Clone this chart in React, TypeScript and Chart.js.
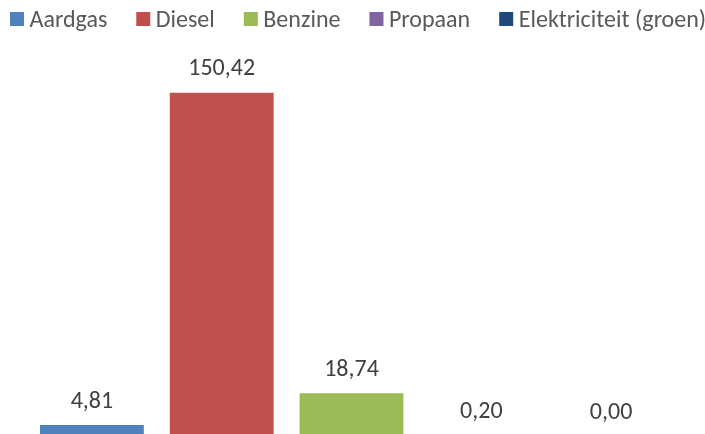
import React, { useEffect, useRef } from "react";
import { Chart, registerables } from "chart.js";

Chart.register(...registerables);

const categories: string[] = [""];
const seriesNames: string[] = ["Aardgas", "Diesel", "Benzine", "Propaan", "Elektriciteit (groen)"];
const seriesValues: number[] = [4.81, 150.42, 18.74, 0.2, 0.0];
const seriesColors: string[] = ["#4F81BD", "#C0504D", "#9BBB59", "#8064A2", "#1F497D"];

const FONT = "Carlito, Calibri, 'Open Sans', sans-serif";

const valueLabels = {
  id: "valueLabels",
  afterDatasetsDraw(chart: any) {
    const ctx = chart.ctx;
    ctx.save();
    ctx.font = `24px ${FONT}`;
    ctx.fillStyle = "#404040";
    ctx.textAlign = "center";
    ctx.textBaseline = "alphabetic";
    chart.data.datasets.forEach((ds: any, i: number) => {
      const meta = chart.getDatasetMeta(i);
      const el = meta.data[0];
      if (!el) return;
      const v = ds.data[0] as number;
      ctx.fillText(v.toFixed(2).replace(".", ","), el.x, el.y - 17.5);
    });
    ctx.restore();
  },
};

const topLegend = {
  id: "topLegend",
  afterDraw(chart: any) {
    const ctx = chart.ctx;
    ctx.save();
    ctx.font = `24px ${FONT}`;
    ctx.textAlign = "left";
    ctx.textBaseline = "alphabetic";
    let x = 10;
    chart.data.datasets.forEach((ds: any) => {
      ctx.fillStyle = ds.backgroundColor;
      ctx.fillRect(x, 12, 14, 14);
      x += 14 + 5.5;
      ctx.fillStyle = "#595959";
      ctx.fillText(ds.label, x, 26.5);
      x += ctx.measureText(ds.label).width + 29;
    });
    ctx.restore();
  },
};

export default function App() {
  const ref = useRef<HTMLCanvasElement | null>(null);
  useEffect(() => {
    document.body.style.margin = "0";
    const chart = new Chart(ref.current!, {
      type: "bar",
      data: {
        labels: categories,
        datasets: seriesNames.map((name, i) => ({
          label: name,
          data: [seriesValues[i]],
          backgroundColor: seriesColors[i],
          borderWidth: 0,
        })),
      },
      options: {
        responsive: false,
        animation: false,
        layout: { padding: { left: 27, right: 29, top: 71, bottom: 0 } },
        datasets: { bar: { categoryPercentage: 1, barPercentage: 0.8 } },
        scales: {
          x: { display: false },
          y: { display: false, min: 0, max: 160 },
        },
        plugins: {
          tooltip: { enabled: false },
          legend: { display: false },
        },
      },
      plugins: [valueLabels, topLegend],
    });
    return () => chart.destroy();
  }, []);
  return (
    <div style={{ position: "absolute", left: 0, top: 0, width: 705, height: 434, overflow: "hidden", background: "#fff" }}>
      <canvas ref={ref} width={705} height={436} style={{ display: "block" }} />
    </div>
  );
}
